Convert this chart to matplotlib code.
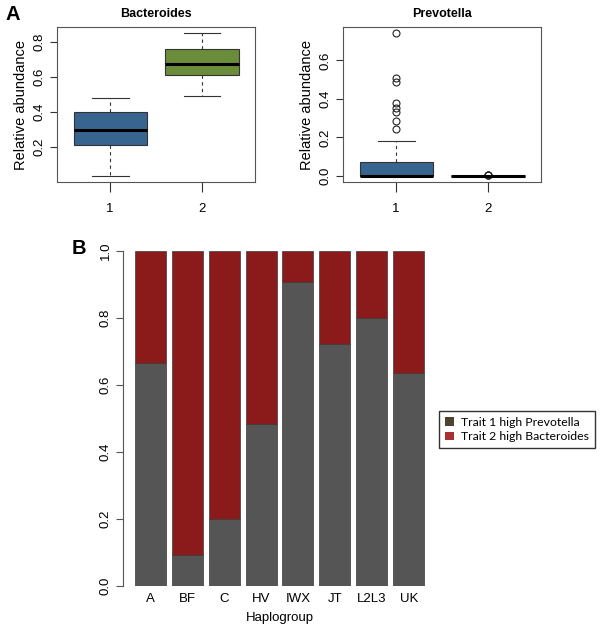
import matplotlib.pyplot as plt
from matplotlib.patches import Patch

plt.rcParams['font.family'] = ['Liberation Sans', 'DejaVu Sans']

# Panel A: box statistics
groups = [1, 2]
bact_whislo = [0.036, 0.490]
bact_q1 = [0.210, 0.611]
bact_med = [0.297, 0.676]
bact_q3 = [0.400, 0.758]
bact_whishi = [0.478, 0.853]

prev_whislo = [0.0, 0.0]
prev_q1 = [0.0, 0.0]
prev_med = [0.002, 0.0]
prev_q3 = [0.071, 0.001]
prev_whishi = [0.181, 0.002]
prev_fliers = [[0.742, 0.511, 0.487, 0.377, 0.351, 0.333, 0.287, 0.244],
               [0.004, 0.006, 0.005]]

# Panel B: stacked proportions per haplogroup
haplogroups = ['A', 'BF', 'C', 'HV', 'IWX', 'JT', 'L2L3', 'UK']
trait1 = [0.666, 0.091, 0.200, 0.482, 0.908, 0.721, 0.799, 0.635]
trait2 = [1 - v for v in trait1]

fig = plt.figure(figsize=(6, 6.25), dpi=100)


def make_stats(lo, q1, med, q3, hi, fliers=None):
    out = []
    for i in range(len(med)):
        out.append(dict(whislo=lo[i], q1=q1[i], med=med[i], q3=q3[i], whishi=hi[i],
                        fliers=fliers[i] if fliers else []))
    return out


def draw_box(ax, stats, colors, title):
    bp = ax.bxp(stats, positions=groups, widths=0.8, patch_artist=True,
                boxprops=dict(edgecolor='#333333', linewidth=0.8),
                whiskerprops=dict(color='#333333', linewidth=0.8, linestyle=(0, (3, 3))),
                capprops=dict(color='#333333', linewidth=0.8),
                medianprops=dict(color='black', linewidth=2.2),
                flierprops=dict(marker='o', markerfacecolor='none', markeredgecolor='#222222',
                                markersize=5, markeredgewidth=0.8))
    for patch, c in zip(bp['boxes'], colors):
        patch.set_facecolor(c)
    for cap in bp['caps']:
        x = cap.get_xdata()
        mid = (x[0] + x[1]) / 2
        cap.set_xdata([mid - 0.2, mid + 0.2])
    ax.set_xlim(0.42, 2.58)
    ax.set_xticks(groups)
    ax.set_xticklabels(['1', '2'], fontsize=9.5)
    ax.tick_params(axis='x', length=7, pad=8, color='#333333')
    ax.tick_params(axis='y', length=5, pad=3, color='#333333', labelsize=9.5)
    for s in ax.spines.values():
        s.set_color('#555555')
        s.set_linewidth(0.8)
    ax.set_title(title, fontsize=9, fontweight='bold', pad=7)
    ax.set_ylabel('Relative abundance', fontsize=10.5, labelpad=4)


ax1 = fig.add_axes([57 / 600, 1 - 182 / 625, 198 / 600, 155 / 625])
draw_box(ax1, make_stats(bact_whislo, bact_q1, bact_med, bact_q3, bact_whishi),
         ['#376590', '#6b8c3a'], 'Bacteroides')
ax1.set_ylim(0.0, 0.885)
ax1.set_yticks([0.2, 0.4, 0.6, 0.8])
for lab in ax1.get_yticklabels():
    lab.set_rotation(90)
    lab.set_va('center')

ax2 = fig.add_axes([343 / 600, 1 - 182 / 625, 198 / 600, 155 / 625])
draw_box(ax2, make_stats(prev_whislo, prev_q1, prev_med, prev_q3, prev_whishi, prev_fliers),
         ['#376590', '#376590'], 'Prevotella')
ax2.set_ylim(-0.031, 0.773)
ax2.set_yticks([0.0, 0.2, 0.4, 0.6])
for lab in ax2.get_yticklabels():
    lab.set_rotation(90)
    lab.set_va('center')

fig.text(5 / 600, 1 - 14 / 625, 'A', fontsize=14.5, fontweight='bold', va='center', ha='left')

# Panel B
ax3 = fig.add_axes([123 / 600, 1 - 585.7 / 625, 313 / 600, 334.7 / 625])
xpos = list(range(len(haplogroups)))
ax3.bar(xpos, trait1, width=0.84, color='#555555', edgecolor='#3a3a3a', linewidth=0.5)
ax3.bar(xpos, trait2, bottom=trait1, width=0.84, color='#8b1a1a', edgecolor='#3a3a3a', linewidth=0.5)
ax3.set_xlim(-0.737, 7.737)
ax3.set_ylim(0, 1)
for s in ['top', 'right', 'bottom']:
    ax3.spines[s].set_visible(False)
ax3.spines['left'].set_color('#555555')
ax3.spines['left'].set_linewidth(0.8)
ax3.set_yticks([0.0, 0.2, 0.4, 0.6, 0.8, 1.0])
ax3.set_yticklabels(['0.0', '0.2', '0.4', '0.6', '0.8', '1.0'], rotation=90, va='center', fontsize=9.5)
ax3.tick_params(axis='y', length=5, pad=3, color='#555555')
ax3.set_xticks(xpos)
ax3.set_xticklabels(haplogroups, fontsize=9.5)
ax3.tick_params(axis='x', length=0, pad=5)
ax3.set_xlabel('Haplogroup', fontsize=9.5, labelpad=5)

handles = [Patch(facecolor='#4b4530', edgecolor='none', label='Trait 1 high Prevotella'),
           Patch(facecolor='#a83232', edgecolor='none', label='Trait 2 high Bacteroides')]
fig.legend(handles=handles, loc='center left', bbox_to_anchor=(439 / 600, 1 - 429.5 / 625),
           frameon=True, fancybox=False, edgecolor='#333333', framealpha=1,
           handlelength=0.7, handleheight=0.7, handletextpad=0.6, borderpad=0.5,
           labelspacing=0.3, borderaxespad=0, prop={'family': 'Lato', 'size': 8.8})

fig.text(72 / 600, 1 - 248 / 625, 'B', fontsize=14.5, fontweight='bold', va='center', ha='left')

fig.savefig('out.png', dpi=100)
